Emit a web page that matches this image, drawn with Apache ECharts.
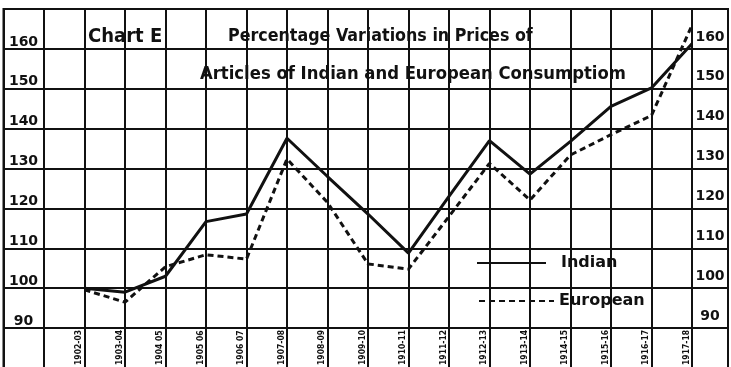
<!DOCTYPE html>
<html>
<head>
<meta charset="utf-8">
<script src="https://cdn.jsdelivr.net/npm/echarts@6/dist/echarts.min.js"></script>
<style>
  html, body { margin: 0; padding: 0; background: #fff; }
  #chart { width: 731px; height: 367px; }
</style>
</head>
<body>
<div id="chart"></div>
<script>
// Years of the price series
const years = ['1902-03', '1903-04', '1904 05', '1905 06', '1906 07', '1907-08', '1908-09', '1909-10',
               '1910-11', '1911-12', '1912-13', '1913-14', '1914-15', '1915-16', '1916-17', '1917-18'];
// Percentage variation, articles of Indian consumption
const indian = [100, 99, 103, 116.7, 118.6, 137.6, 128, 118.6, 108.8, 123, 137, 128.6, 136.8, 145.6, 150.2, 161.3];
// Percentage variation, articles of European consumption
const european = [99.6, 96.5, 105.4, 108.4, 107.3, 132.4, 121.5, 106.1, 104.8, 118, 131.3, 122.1, 133.4, 138.5, 143.3, 165.9];
// Labelled values on both vertical scales
const yTicks = [90, 100, 110, 120, 130, 140, 150, 160];

const INK = '#111';
const LETTER = 'DejaVu Sans Condensed';

const chart = echarts.init(document.getElementById('chart'), null, { renderer: 'canvas' });

const yLabel = (margin, pad) => ({
  inside: true,
  margin: margin,
  align: 'center',
  verticalAlign: 'bottom',
  padding: [0, 0, pad, 0],
  fontSize: 14,
  fontWeight: 'bold',
  fontFamily: 'DejaVu Sans',
  color: INK,
  formatter: v => (yTicks.includes(v) ? String(v) : '')
});

// legend keys show only the line, no marker
const keyMarker = { color: 'transparent', borderColor: 'transparent', borderWidth: 0 };

chart.setOption({
  animation: false,
  backgroundColor: '#fff',
  title: [
    { text: 'Chart E', left: 88, top: 27, padding: 0,
      textStyle: { fontSize: 20, fontWeight: 'bold', fontFamily: LETTER, color: INK } },
    { text: 'Percentage Variations in Prices of', left: 228, top: 27, padding: 0,
      textStyle: { fontSize: 17.7, fontWeight: 'bold', fontFamily: LETTER, color: INK } },
    { text: 'Articles of Indian and European Consumptiom', left: 200, top: 65, padding: 0,
      textStyle: { fontSize: 18.3, fontWeight: 'bold', fontFamily: LETTER, color: INK } }
  ],
  legend: [
    { data: ['Indian'], left: 476, top: 255, padding: 0, itemWidth: 69, itemHeight: 14,
      itemStyle: keyMarker,
      textStyle: { fontSize: 16, fontWeight: 'bold', fontFamily: 'DejaVu Sans', color: INK, padding: [0, 0, 0, 10] } },
    { data: ['European'], left: 478, top: 293, padding: 0, itemWidth: 75, itemHeight: 14,
      itemStyle: keyMarker,
      textStyle: { fontSize: 16, fontWeight: 'bold', fontFamily: 'DejaVu Sans', color: INK } }
  ],
  grid: {
    left: 3.5, right: 3, top: 9, bottom: -1,
    show: true, borderColor: INK, borderWidth: 2, backgroundColor: 'transparent',
    outerBoundsMode: 'none'
  },
  xAxis: {
    type: 'value', min: -2, max: 15.89, interval: 1,
    axisLine: { show: false }, axisTick: { show: false },
    splitLine: { show: true, lineStyle: { color: INK, width: 2 } },
    axisLabel: {
      inside: true, rotate: 90, margin: 3,
      align: 'left', verticalAlign: 'bottom', padding: [0, 0, 1, 0],
      fontSize: 8.5, fontWeight: 'bold', fontFamily: LETTER, color: INK,
      formatter: v => (Number.isInteger(v) && v >= 0 && v < years.length ? years[v] : '')
    }
  },
  yAxis: [
    { type: 'value', min: 80, max: 170, interval: 10, position: 'left',
      axisLine: { show: false }, axisTick: { show: false },
      splitLine: { show: true, lineStyle: { color: INK, width: 2 } },
      axisLabel: yLabel(20, 0) },
    { type: 'value', min: 80, max: 170, interval: 10, position: 'right',
      axisLine: { show: false }, axisTick: { show: false },
      splitLine: { show: false },
      axisLabel: yLabel(18, 5) }
  ],
  series: [
    { name: 'Indian', type: 'line', symbol: 'none',
      data: indian.map((v, i) => [i, v]),
      lineStyle: { color: INK, width: 3 }, itemStyle: { color: INK } },
    { name: 'European', type: 'line', symbol: 'none',
      data: european.map((v, i) => [i, v]),
      lineStyle: { color: INK, width: 3, type: [6, 4] }, itemStyle: { color: INK } }
  ]
});
</script>
</body>
</html>
